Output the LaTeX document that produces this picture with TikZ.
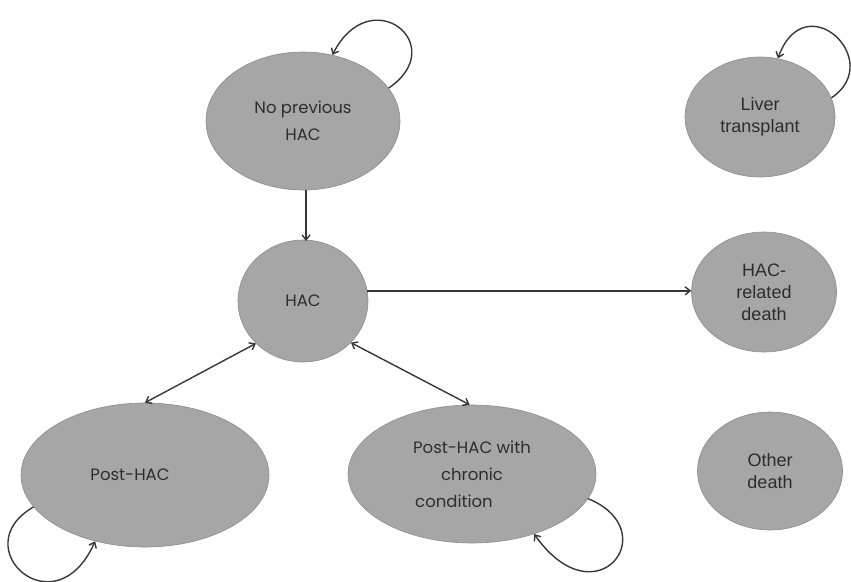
\documentclass[tikz,border=0pt]{standalone}
\usepackage{fontspec}
\setmainfont{Liberation Sans}
\newfontfamily\geofont{Poppins}
\usetikzlibrary{shapes.geometric,arrows.meta}
\definecolor{statefill}{RGB}{166,166,166}
\definecolor{stateline}{RGB}{140,140,140}
\definecolor{arrowcol}{RGB}{55,55,55}
\definecolor{textcol}{RGB}{45,45,45}
\tikzset{
  state/.style={ellipse, fill=statefill, draw=stateline, line width=0.6pt,
    inner sep=0pt, text=textcol, align=center},
  geo/.style={font=\geofont\fontsize{16.5}{27}\selectfont},
  ari/.style={font=\fontsize{18}{22}\selectfont},
  arr/.style={draw=arrowcol, line width=1.4pt, -{Straight Barb[length=5pt,width=8pt]}},
  darr/.style={draw=arrowcol, line width=1.4pt, {Straight Barb[length=5pt,width=8pt]}-{Straight Barb[length=5pt,width=8pt]}}
}
\begin{document}
\begin{tikzpicture}[x=1pt,y=-1pt]
\useasboundingbox (0,0) rectangle (851,581);
\node[state, geo, minimum width=194pt, minimum height=138pt] (np) at (303,121) {No previous\\HAC};
\node[state, geo, minimum width=130pt, minimum height=122pt] (hac) at (303,301) {HAC};
\node[state, ari, minimum width=150pt, minimum height=120pt] (lt) at (760,117) {Liver\\transplant};
\node[state, ari, minimum width=145pt, minimum height=120pt] (hrd) at (764,292) {HAC-\\related\\death};
\node[state, ari, minimum width=145pt, minimum height=118pt] (od) at (770,471) {Other\\death};
\node[state, geo, minimum width=248pt, minimum height=144pt] (ph) at (145,475) {\hspace*{-30pt}Post-HAC};
\node[state, geo, minimum width=248pt, minimum height=138pt] (pc) at (472,474) {Post-HAC with\\chronic\\\hspace*{-36pt}condition};

\draw[arr] (np.south -| 306,0) -- (306,241);
\draw[arr] (hac.9) -- (hac.9 -| hrd.west);
\draw[darr] (hac.222) -- (ph.north);
\draw[darr] (hac.-41) -- (pc.92);

\draw[arr] (np.21) .. controls +(63,-43) and +(38,-75) .. (np.66);
\draw[arr] (lt.15) .. controls +(55,-37) and +(27,-75) .. (lt.73);
\draw[arr] (ph.196) .. controls +(-70,40) and +(-40,90) .. (ph.233);
\draw[arr] (pc.-12) .. controls +(78,32) and +(62,88) .. (pc.-44);
\end{tikzpicture}
\end{document}
